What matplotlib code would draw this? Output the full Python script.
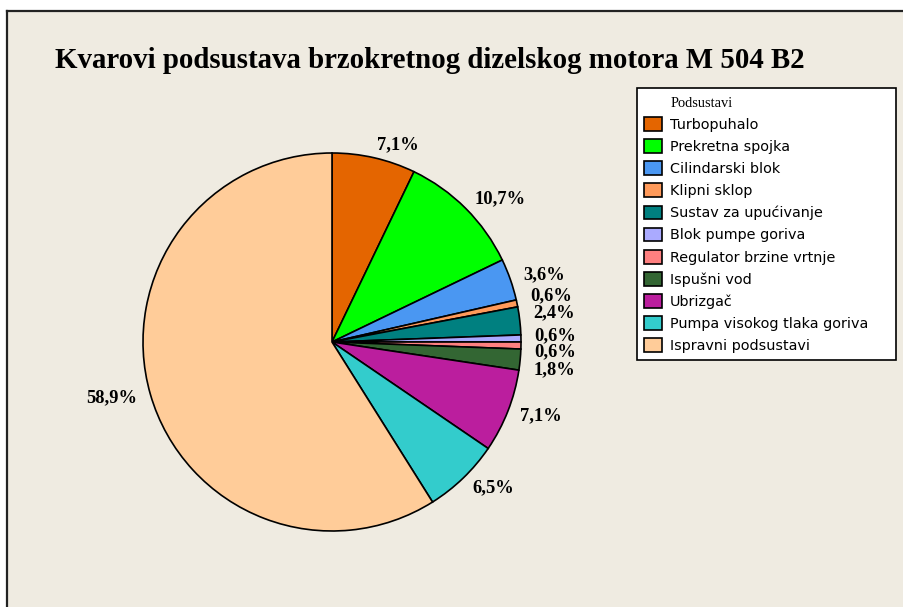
import matplotlib
matplotlib.use('Agg')
import matplotlib.pyplot as plt
from matplotlib.patches import Rectangle
from matplotlib.lines import Line2D

# podaci
subsystems = ['Turbopuhalo', 'Prekretna spojka', 'Cilindarski blok', 'Klipni sklop',
              'Sustav za upućivanje', 'Blok pumpe goriva', 'Regulator brzine vrtnje',
              'Ispušni vod', 'Ubrizgač', 'Pumpa visokog tlaka goriva', 'Ispravni podsustavi']
counts = [12, 18, 6, 1, 4, 1, 1, 3, 12, 11, 99]
pct_labels = ['7,1%', '10,7%', '3,6%', '0,6%', '2,4%', '0,6%', '0,6%', '1,8%', '7,1%', '6,5%', '58,9%']
colors = ['#E46500', '#00FF00', '#4A97F2', '#FF9A5A', '#008080', '#AAAAFF',
          '#FF8080', '#336633', '#BB1E9E', '#33CCCC', '#FFCC99']

W, H = 904, 607
fig = plt.figure(figsize=(W / 100, H / 100), dpi=100)
fig.patch.set_facecolor('white')

# pozadina panela
bg = '#EFEBE1'
fig.patches.append(Rectangle((7 / W, 0), 1, 1 - 11 / H, transform=fig.transFigure,
                             facecolor=bg, edgecolor='none', zorder=-5))
fig.lines.append(Line2D([7 / W, 7 / W], [0, 1 - 11 / H], transform=fig.transFigure,
                        color='#222222', lw=1.6, zorder=-4))
fig.lines.append(Line2D([7 / W, 1], [1 - 11 / H, 1 - 11 / H], transform=fig.transFigure,
                        color='#222222', lw=1.6, zorder=-4))

fig.text(55 / W, 1 - 68 / H, 'Kvarovi podsustava brzokretnog dizelskog motora M 504 B2',
         fontfamily='Liberation Serif', fontweight='bold', fontsize=20.8, va='baseline', ha='left')

cx, cy, r = 332, 342, 189
ax = fig.add_axes([(cx - r) / W, (H - cy - r) / H, 2 * r / W, 2 * r / H])
wedges, texts = ax.pie(counts, colors=colors, labels=pct_labels, startangle=90,
                       counterclock=False, labeldistance=1.07,
                       wedgeprops=dict(edgecolor='black', linewidth=1.2),
                       textprops=dict(fontfamily='Liberation Serif', fontweight='bold',
                                      fontsize=13.3))
ax.set_xlim(-1, 1)
ax.set_ylim(-1, 1)
ax.set_aspect('equal')
ax.patch.set_visible(False)

# razmak malih oznaka
nudge = [0, 0, 0, 0.025, 0.035, 0.014, -0.033, -0.045, 0, 0, 0]
for t, dy in zip(texts, nudge):
    x, y = t.get_position()
    t.set_position((x, y + dy))
    t.set_clip_on(False)

blank = Rectangle((0, 0), 1, 1, visible=False)
handles = [blank] + wedges
labels = ['Podsustavi'] + subsystems
leg = fig.legend(handles, labels, loc='upper left',
                 bbox_to_anchor=(637 / W, 1 - 358 / H, 259 / W, 270 / H),
                 bbox_transform=fig.transFigure, mode='expand', fancybox=False, framealpha=1,
                 edgecolor='black', prop=dict(family='DejaVu Sans', size=10.4),
                 handlelength=1.25, handleheight=1.1, handletextpad=0.55,
                 labelspacing=0.5, borderpad=0.5, borderaxespad=0)
leg.get_frame().set_linewidth(1.2)
title_txt = leg.get_texts()[0]
title_txt.set_fontfamily('Liberation Serif')
title_txt.set_fontsize(10.4)

fig.savefig('out.png', dpi=100)
